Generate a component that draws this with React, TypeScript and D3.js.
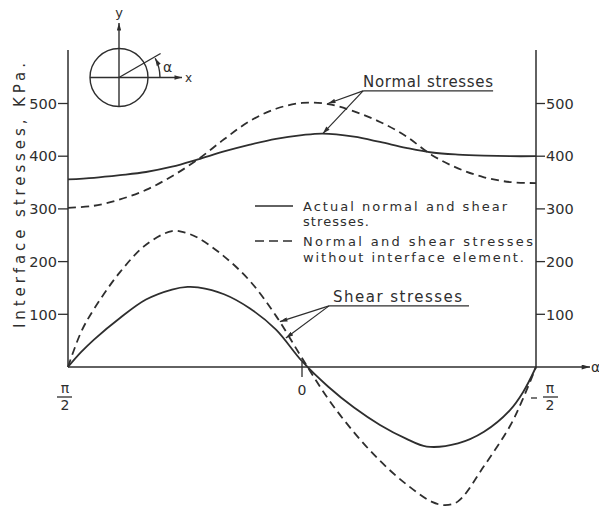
import React from "react";
import * as d3 from "d3";

// ---- Data (alpha in degrees, stresses in kPa) ----
const actualNormalAlpha = [90, 80, 70, 60, 50, 40, 30, 20, 10, 0, -8, -20, -30, -40, -50, -60, -70, -80, -90];
const actualNormal = [356, 359, 364, 370, 380, 394, 409, 422, 433, 440, 443, 437, 427, 416, 407, 403, 401, 400, 400];

const noInterfaceNormalAlpha = [90, 80, 70, 60, 50, 40, 30, 20, 10, 0, -10, -20, -30, -40, -50, -60, -70, -80, -90];
const noInterfaceNormal = [302, 306, 318, 336, 362, 394, 432, 467, 490, 501, 499, 485, 465, 438, 402, 377, 360, 351, 349];

const actualShearAlpha = [90, 85, 80, 70, 60, 50, 44, 40, 30, 20, 10, 0, -10, -20, -30, -40, -48, -60, -70, -80, -85, -90];
const actualShear = [0, 28, 52, 93, 128, 147, 152, 151, 138, 111, 71, 11, -37, -77, -110, -136, -151, -145, -123, -82, -48, 0];

const noInterfaceShearAlpha = [90, 85, 80, 70, 60, 50, 45, 40, 30, 20, 10, 0, -10, -20, -30, -40, -50, -55, -60, -70, -80, -85, -90];
const noInterfaceShear = [0, 66, 110, 180, 232, 258, 255, 245, 210, 163, 97, 17, -60, -124, -178, -222, -256, -262, -255, -188, -112, -60, 0];

const yTicks = [100, 200, 300, 400, 500];
const yLabel = "Interface stresses, KPa.";
const legendSolid = ["Actual normal and shear", "stresses."];
const legendDashed = ["Normal and shear stresses", "without interface element."];
const normalLabel = "Normal stresses";
const shearLabel = "Shear stresses";

// annotation anchors [alpha, value]
const normalLabelAnchor: [number, number] = [-23.5, 524];
const normalTips: [number, number][] = [[-10, 500], [-8, 443]];
const shearLabelAnchor: [number, number] = [-10.4, 116];
const shearTips: [number, number][] = [[8.5, 86], [6.2, 55]];

const W = 599;
const H = 507;
const INK = "#2e2e2e";
const FONT = "'DejaVu Sans', sans-serif";

export default function App() {
  const x = d3.scaleLinear().domain([90, -90]).range([68, 536]);
  const y = d3.scaleLinear().domain([0, 500]).range([367, 103.5]);
  const yTop = 50;

  const line = (al: number[], vals: number[]) =>
    d3
      .line<number>()
      .x((_, i) => x(al[i]))
      .y((d) => y(d))
      .curve(d3.curveCatmullRom.alpha(0.5))(vals) || "";

  const xl = x(90);
  const xr = x(-90);
  const y0 = y(0);

  const [nlx, nly] = [x(normalLabelAnchor[0]), y(normalLabelAnchor[1])];
  const [slx, sly] = [x(shearLabelAnchor[0]), y(shearLabelAnchor[1])];

  // small diagram
  const cx = 119, cy = 77.5, r = 29;
  const ang = (30 * Math.PI) / 180;
  const ar = 41;
  const arcEnd = (28 * Math.PI) / 180;

  return (
    <svg
      width={W}
      height={H}
      style={{ position: "absolute", left: 0, top: 0, background: "#fff" }}
      fontFamily={FONT}
    >
      <defs>
        <marker id="tip" viewBox="0 0 10 6" refX="10" refY="3" markerWidth="8" markerHeight="4.5" orient="auto" markerUnits="userSpaceOnUse">
          <path d="M0,0 L10,3 L0,6 Z" fill={INK} />
        </marker>
        <marker id="axtip" viewBox="0 0 10 6" refX="10" refY="3" markerWidth="13" markerHeight="5" orient="auto" markerUnits="userSpaceOnUse">
          <path d="M0,0 L10,3 L0,6 Z" fill={INK} />
        </marker>
      </defs>

      {/* axes */}
      <line x1={xl} x2={xl} y1={yTop} y2={y0} stroke={INK} strokeWidth={1.5} />
      <line x1={xr} x2={xr} y1={yTop} y2={y0} stroke={INK} strokeWidth={1.5} />
      <line x1={xl} x2={590} y1={y0} y2={y0} stroke={INK} strokeWidth={1.5} markerEnd="url(#axtip)" />
      <text x={591} y={y0 + 5} fontSize={14} fill={INK}>α</text>

      {yTicks.map((t) => (
        <g key={"l" + t}>
          <line x1={xl - 10} x2={xl} y1={y(t)} y2={y(t)} stroke={INK} strokeWidth={1.3} />
          <text x={xl - 11} y={y(t)} dy="0.36em" textAnchor="end" fontSize={14.5} fill={INK}>{t}</text>
          <line x1={xr} x2={xr + 9} y1={y(t)} y2={y(t)} stroke={INK} strokeWidth={1.3} />
          <text x={xr + 10} y={y(t)} dy="0.36em" textAnchor="start" fontSize={14.5} fill={INK}>{t}</text>
        </g>
      ))}

      {/* zero tick and alpha labels */}
      <line x1={x(0)} x2={x(0)} y1={y0 - 5} y2={y0 + 10} stroke={INK} strokeWidth={1.3} />
      <text x={x(0)} y={y0 + 28} textAnchor="middle" fontSize={14} fill={INK}>0</text>

      <g fill={INK} fontSize={14}>
        <text x={xl - 3} y={y0 + 26} textAnchor="middle">π</text>
        <line x1={xl - 11} x2={xl + 4} y1={y0 + 30} y2={y0 + 30} stroke={INK} strokeWidth={1.3} />
        <text x={xl - 3} y={y0 + 43} textAnchor="middle">2</text>

        <line x1={xr - 5} x2={xr + 1} y1={y0 + 31} y2={y0 + 31} stroke={INK} strokeWidth={1.3} />
        <text x={xr + 14} y={y0 + 26} textAnchor="middle">π</text>
        <line x1={xr + 7} x2={xr + 22} y1={y0 + 30} y2={y0 + 30} stroke={INK} strokeWidth={1.3} />
        <text x={xr + 14} y={y0 + 43} textAnchor="middle">2</text>
      </g>

      {/* y axis title */}
      <text
        transform={`translate(25,${(63 + 328) / 2}) rotate(-90)`}
        textAnchor="middle"
        fontSize={15}
        fill={INK}
        textLength={265}
        lengthAdjust="spacing"
      >
        {yLabel}
      </text>

      {/* curves */}
      <g fill="none" stroke={INK} strokeWidth={1.8}>
        <path d={line(actualNormalAlpha, actualNormal)} />
        <path d={line(noInterfaceNormalAlpha, noInterfaceNormal)} strokeDasharray="8,5" />
        <path d={line(actualShearAlpha, actualShear)} />
        <path d={line(noInterfaceShearAlpha, noInterfaceShear)} strokeDasharray="8,5" />
      </g>

      {/* normal stresses annotation */}
      <text x={nlx} y={nly - 4} fontSize={15} fill={INK} textLength={130} lengthAdjust="spacing">{normalLabel}</text>
      <line x1={nlx} x2={nlx + 130} y1={nly} y2={nly} stroke={INK} strokeWidth={1.3} />
      {normalTips.map(([a, v], i) => (
        <line key={"nt" + i} x1={nlx} y1={nly} x2={x(a)} y2={y(v)} stroke={INK} strokeWidth={1.2} markerEnd="url(#tip)" />
      ))}

      {/* shear stresses annotation */}
      <text x={slx + 4} y={sly - 4} fontSize={15} fill={INK} textLength={129} lengthAdjust="spacing">{shearLabel}</text>
      <line x1={slx} x2={slx + 140} y1={sly} y2={sly} stroke={INK} strokeWidth={1.3} />
      {shearTips.map(([a, v], i) => (
        <line key={"st" + i} x1={slx} y1={sly} x2={x(a)} y2={y(v)} stroke={INK} strokeWidth={1.2} markerEnd="url(#tip)" />
      ))}

      {/* legend */}
      <line x1={255} x2={293} y1={206} y2={206} stroke={INK} strokeWidth={1.6} />
      <text x={303} y={210.5} fontSize={13} fill={INK} textLength={204} lengthAdjust="spacing">{legendSolid[0]}</text>
      <text x={303} y={226} fontSize={13} fill={INK} textLength={66} lengthAdjust="spacing">{legendSolid[1]}</text>
      <line x1={255} x2={294} y1={241} y2={241} stroke={INK} strokeWidth={1.6} strokeDasharray="9,5" />
      <text x={303} y={245.5} fontSize={13} fill={INK} textLength={230} lengthAdjust="spacing">{legendDashed[0]}</text>
      <text x={303} y={262} fontSize={13} fill={INK} textLength={221} lengthAdjust="spacing">{legendDashed[1]}</text>

      {/* coordinate diagram */}
      <g stroke={INK} strokeWidth={1.4} fill="none">
        <circle cx={cx} cy={cy} r={r} />
        <line x1={cx} x2={cx} y1={cy + r} y2={23} markerEnd="url(#tip)" />
        <line x1={cx - r} x2={182} y1={cy} y2={cy} markerEnd="url(#tip)" />
        <line x1={cx} y1={cy} x2={cx + 48 * Math.cos(ang)} y2={cy - 48 * Math.sin(ang)} />
        <path
          d={`M${cx + ar},${cy} A${ar},${ar} 0 0 0 ${cx + ar * Math.cos(arcEnd)},${cy - ar * Math.sin(arcEnd)}`}
          markerEnd="url(#tip)"
        />
      </g>
      <text x={cx} y={17} textAnchor="middle" fontSize={13} fill={INK}>y</text>
      <text x={185} y={82} fontSize={12} fill={INK}>x</text>
      <text x={163} y={72} fontSize={14} fill={INK}>α</text>
    </svg>
  );
}
